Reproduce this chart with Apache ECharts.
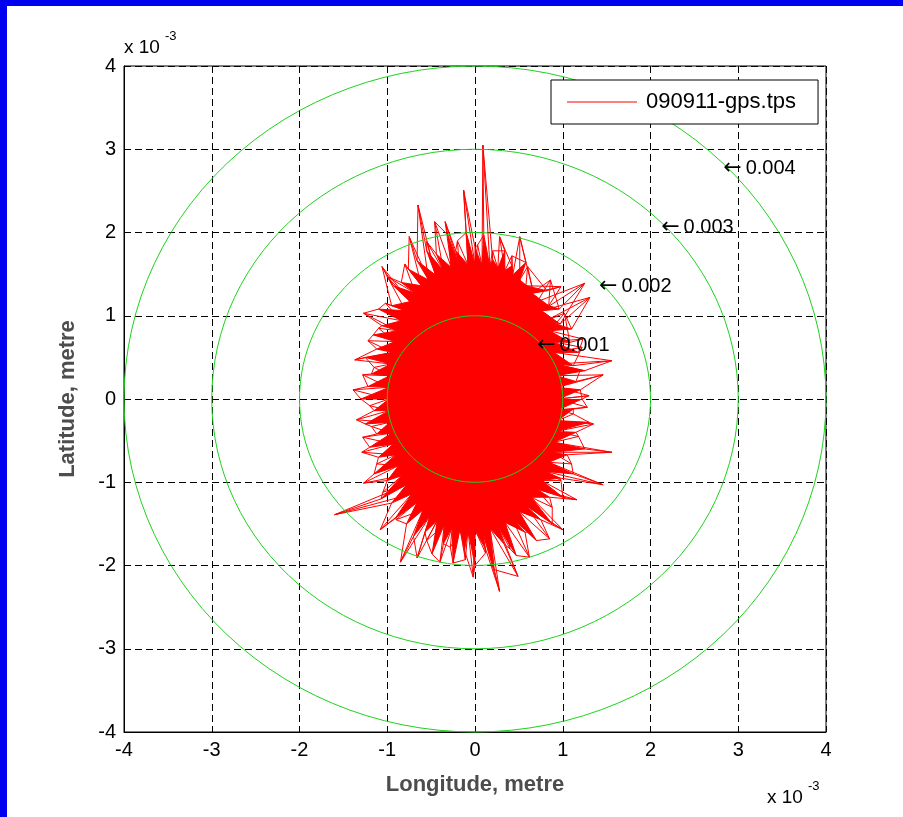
<!DOCTYPE html>
<html>
<head>
<meta charset="utf-8">
<script src="https://cdn.jsdelivr.net/npm/echarts@6/dist/echarts.min.js"></script>
<style>
html, body { margin: 0; padding: 0; background: #fff; }
#chart { width: 903px; height: 817px; }
</style>
</head>
<body>
<div id="chart"></div>
<script>
// all values in units of 1e-3 metre (the axes show "x 10^-3")
var ticks = [-4, -3, -2, -1, 0, 1, 2, 3, 4];
var ringRadii = [1, 2, 3, 4];
var ringLabels = ['0.001', '0.002', '0.003', '0.004'];

// track points at the edge of the dense core
var innerLon = [0.95, 0.94, 0.93, 0.92, 0.90, 0.88, 0.85, 0.81, 0.76, 0.71, 0.65, 0.58, 0.51, 0.43, 0.34, 0.26, 0.17, 0.08,
    0.00, -0.08, -0.18, -0.27, -0.36, -0.45, -0.53, -0.61, -0.68, -0.74, -0.79, -0.84, -0.88, -0.91, -0.94, -0.96, -0.97, -0.98,
    -0.98, -0.98, -0.97, -0.95, -0.93, -0.90, -0.87, -0.83, -0.78, -0.72, -0.66, -0.59, -0.51, -0.43, -0.35, -0.26, -0.17, -0.08,
    0.00, 0.08, 0.17, 0.26, 0.34, 0.42, 0.50, 0.57, 0.64, 0.70, 0.76, 0.80, 0.84, 0.88, 0.90, 0.92, 0.94, 0.95];
var innerLat = [0.00, 0.14, 0.28, 0.42, 0.56, 0.69, 0.82, 0.94, 1.06, 1.17, 1.27, 1.36, 1.43, 1.49, 1.54, 1.57, 1.59, 1.60,
    1.61, 1.61, 1.60, 1.58, 1.54, 1.49, 1.43, 1.36, 1.27, 1.17, 1.06, 0.94, 0.82, 0.69, 0.56, 0.42, 0.28, 0.14,
    0.00, -0.14, -0.28, -0.41, -0.54, -0.67, -0.80, -0.92, -1.03, -1.14, -1.24, -1.33, -1.40, -1.46, -1.51, -1.54, -1.56, -1.57,
    -1.57, -1.57, -1.55, -1.52, -1.48, -1.42, -1.35, -1.27, -1.18, -1.08, -0.98, -0.87, -0.76, -0.64, -0.52, -0.39, -0.26, -0.13];

// outer spike tips of the track
var tipLon = [1.30, 1.46, 1.20, 1.56, 1.22, 1.23, 1.02, 1.31, 1.25, 0.86, 0.98, 0.60, 0.51, 0.42, 0.28, 0.20, 0.09, 0.03,
    -0.13, -0.20, -0.34, -0.46, -0.55, -0.65, -0.75, -0.80, -1.00, -1.06, -1.02, -1.27, -1.10, -1.22, -1.37, -1.15, -1.28, -1.39,
    -1.20, -1.35, -1.18, -1.28, -1.29, -1.12, -1.27, -1.05, -1.60, -1.08, -0.90, -0.85, -0.66, -0.55, -0.40, -0.28, -0.11, -0.02,
    0.12, 0.28, 0.49, 0.40, 0.62, 0.60, 0.85, 1.00, 0.88, 1.16, 0.98, 1.46, 1.10, 1.56, 1.18, 1.35, 1.12, 1.28];
var tipLat = [0.04, 0.29, 0.35, 0.46, 0.62, 0.72, 1.03, 1.22, 1.39, 1.43, 1.35, 1.59, 1.95, 1.72, 1.95, 1.78, 3.05, 1.85,
    2.51, 1.90, 2.13, 2.13, 1.89, 2.33, 1.95, 1.62, 1.47, 1.59, 1.15, 1.03, 0.85, 0.70, 0.47, 0.38, 0.29, 0.11,
    -0.08, -0.25, -0.33, -0.46, -0.64, -0.78, -1.01, -1.12, -1.39, -1.57, -1.45, -1.96, -1.91, -1.70, -1.96, -1.78, -1.93, -2.14,
    -1.85, -2.31, -2.13, -1.80, -1.90, -1.60, -1.68, -1.57, -1.30, -1.21, -0.98, -1.03, -0.78, -0.64, -0.45, -0.30, -0.18, -0.10];

// shorter spikes, mostly inside the dense fringe
var midLon = [1.20, 1.15, 1.25, 1.12, 1.18, 1.08, 1.10, 0.97, 0.96, 0.84, 0.82, 0.66, 0.58, 0.42, 0.34, 0.20, 0.10, 0.00,
    -0.10, -0.22, -0.31, -0.44, -0.55, -0.66, -0.76, -0.84, -0.93, -0.95, -1.10, -1.06, -1.16, -1.12, -1.25, -1.18, -1.22, -1.30,
    -1.15, -1.25, -1.12, -1.20, -1.10, -1.15, -1.00, -1.07, -0.95, -0.90, -0.78, -0.70, -0.57, -0.49, -0.36, -0.25, -0.12, 0.00,
    0.12, 0.22, 0.33, 0.47, 0.57, 0.70, 0.75, 0.88, 0.85, 1.00, 0.97, 1.12, 1.05, 1.25, 1.15, 1.30, 1.12, 1.22];
var midLat = [0.11, 0.21, 0.34, 0.40, 0.56, 0.68, 0.84, 0.90, 1.08, 1.12, 1.30, 1.30, 1.64, 1.60, 1.78, 1.68, 1.97, 1.82,
    2.00, 1.78, 1.97, 1.74, 1.78, 1.66, 1.56, 1.40, 1.36, 1.12, 1.08, 0.88, 0.77, 0.60, 0.50, 0.30, 0.15, 0.00,
    -0.14, -0.30, -0.42, -0.58, -0.70, -0.90, -0.98, -1.20, -1.25, -1.42, -1.50, -1.65, -1.60, -1.86, -1.74, -1.97, -1.82, -2.00,
    -1.80, -2.05, -1.74, -1.88, -1.60, -1.70, -1.45, -1.50, -1.18, -1.18, -0.95, -0.90, -0.67, -0.60, -0.40, -0.28, -0.12, 0.00];

var n = innerLon.length;
var track = [];
for (var k = 0; k < n; k++) {
    track.push([innerLon[k], innerLat[k]]);
    track.push([tipLon[k], tipLat[k]]);
}
for (k = 0; k < n; k++) {
    track.push([innerLon[k], innerLat[k]]);
    track.push([midLon[k], midLat[k]]);
}
for (k = 0; k < n; k++) {
    track.push([midLon[k], midLat[k]]);
    track.push([tipLon[(k + 1) % n], tipLat[(k + 1) % n]]);
}
track.push([innerLon[0], innerLat[0]]);

var font = 'Liberation Sans, Arial, sans-serif';
var chart = echarts.init(document.getElementById('chart'));

function axis(name, gap) {
    return {
        type: 'value',
        min: ticks[0],
        max: ticks[ticks.length - 1],
        interval: 1,
        name: name,
        nameLocation: 'middle',
        nameGap: gap,
        nameTextStyle: { fontFamily: font, fontSize: 22, fontWeight: 'bold', color: '#4d4d4d' },
        axisLine: { show: true, onZero: false, lineStyle: { color: '#000', width: 1 } },
        axisTick: { show: true, inside: true, length: 5, lineStyle: { color: '#000' } },
        axisLabel: { fontFamily: font, fontSize: 20, color: '#000', margin: 8 },
        splitLine: { show: true, lineStyle: { color: '#000', width: 1, type: [7, 4] } }
    };
}

var option = {
    backgroundColor: '#fff',
    animation: false,
    grid: { left: 124, right: 77, top: 66, bottom: 85, show: true, borderColor: '#000', borderWidth: 1, backgroundColor: 'transparent' },
    xAxis: axis('Longitude, metre', 42),
    yAxis: axis('Latitude, metre', 45),
    legend: {
        data: ['090911-gps.tps'],
        left: 551, top: 80,
        padding: [11, 22, 11, 16],
        icon: 'rect',
        itemWidth: 70, itemHeight: 1,
        backgroundColor: '#fff',
        borderColor: '#000', borderWidth: 1, borderRadius: 0,
        textStyle: { fontFamily: font, fontSize: 22, color: '#000', padding: [0, 0, 0, 4] }
    },
    graphic: [
        { type: 'rect', shape: { x: 0, y: 0, width: 903, height: 6 }, style: { fill: '#0000f0' } },
        { type: 'rect', shape: { x: 0, y: 0, width: 7, height: 817 }, style: { fill: '#0000f0' } },
        { type: 'text', x: 124, y: 38, style: { text: 'x 10', font: '19px ' + font, fill: '#000' } },
        { type: 'text', x: 165, y: 30, style: { text: '-3', font: '13px ' + font, fill: '#000' } },
        { type: 'text', x: 767, y: 788, style: { text: 'x 10', font: '19px ' + font, fill: '#000' } },
        { type: 'text', x: 808, y: 780, style: { text: '-3', font: '13px ' + font, fill: '#000' } }
    ],
    series: [
        {
            type: 'custom',
            z: 1,
            silent: true,
            data: [[0, 0]],
            renderItem: function (params, api) {
                var pts = [];
                for (var i = 0; i < n; i++) {
                    pts.push(api.coord([innerLon[i], innerLat[i]]));
                    pts.push(api.coord([midLon[i], midLat[i]]));
                }
                return { type: 'polygon', shape: { points: pts }, style: { fill: '#ff0000' } };
            }
        },
        {
            name: '090911-gps.tps',
            type: 'line',
            z: 2,
            data: track,
            symbol: 'none',
            lineStyle: { color: '#ff0000', width: 1 },
            itemStyle: { color: '#ff0000' }
        },
        {
            type: 'custom',
            z: 3,
            silent: true,
            data: ringRadii.map(function (r, i) { return [r, i]; }),
            renderItem: function (params, api) {
                var r = api.value(0), pts = [];
                for (var a = 0; a <= 360; a += 3) {
                    var t = a * Math.PI / 180;
                    pts.push(api.coord([r * Math.cos(t), r * Math.sin(t)]));
                }
                var p = api.coord([r * Math.SQRT1_2, r * Math.SQRT1_2]);
                return {
                    type: 'group',
                    children: [
                        { type: 'polyline', shape: { points: pts }, style: { stroke: '#1ed21e', lineWidth: 1, fill: null } },
                        {
                            type: 'text', x: p[0], y: p[1] + 5,
                            style: {
                                text: '{a|\u2190}{b|' + ringLabels[api.value(1)] + '}',
                                align: 'left', verticalAlign: 'middle',
                                rich: {
                                    a: { fontFamily: 'DejaVu Sans', fontSize: 22, color: '#000' },
                                    b: { fontFamily: font, fontSize: 20, color: '#000', padding: [0, 0, 0, 4] }
                                }
                            }
                        }
                    ]
                };
            }
        }
    ]
};
chart.setOption(option);
</script>
</body>
</html>
